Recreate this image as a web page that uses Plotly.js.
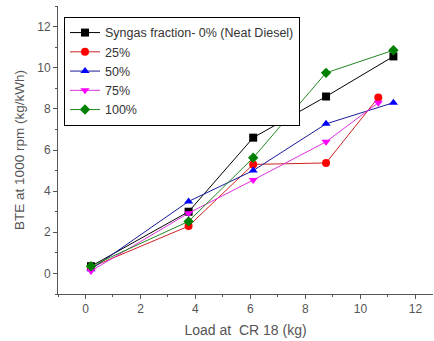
<!DOCTYPE html>
<html><head><meta charset="utf-8">
<script src="https://cdn.plot.ly/plotly-3.0.1.min.js"></script>
<style>html,body{margin:0;padding:0;background:#fff}#c{width:434px;height:341px}</style>
</head><body><div id="c"></div>
<script>
const seriesNames = ["Syngas fraction- 0% (Neat Diesel)", "25%", "50%", "75%", "100%"];
const xLoad0 = [0.2, 3.75, 6.1, 8.75, 11.2];
const xLoad25 = [0.2, 3.75, 6.1, 8.75, 10.65];
const xLoad50 = [0.2, 3.75, 6.1, 8.75, 11.2];
const xLoad75 = [0.2, 3.75, 6.1, 8.75, 10.65];
const xLoad100 = [0.2, 3.75, 6.1, 8.75, 11.2];
const bte0 = [0.35, 3.0, 6.6, 8.6, 10.55];
const bte25 = [0.3, 2.3, 5.3, 5.37, 8.55];
const bte50 = [0.2, 3.5, 5.0, 7.27, 8.3];
const bte75 = [0.12, 2.93, 4.54, 6.4, 8.3];
const bte100 = [0.35, 2.53, 5.62, 9.75, 10.85];
const colors = ["#000000", "#ff0000", "#0000ff", "#ff00ff", "#008000"];
const lineColors = ["#000000", "#cc2222", "#1a1a99", "#dd33dd", "#228822"];
const symbols = ["square", "circle", "triangle-up", "triangle-down", "diamond"];
const xs = [xLoad0, xLoad25, xLoad50, xLoad75, xLoad100];
const ys = [bte0, bte25, bte50, bte75, bte100];

const traces = seriesNames.map((n, i) => ({
  x: xs[i], y: ys[i], name: n, type: "scatter", mode: "lines+markers",
  line: {color: lineColors[i], width: 1},
  marker: {color: colors[i], symbol: symbols[i], size: 8}
}));

const axisCommon = {
  showgrid: false, zeroline: false, showline: true, linecolor: "#555", linewidth: 1,
  ticks: "outside", ticklen: 4, tickcolor: "#555", tickwidth: 1,
  tickfont: {family: "Arial, Liberation Sans, sans-serif", size: 12, color: "#555"},
  minor: {ticks: "outside", ticklen: 2, tickcolor: "#555", dtick: 1}
};

const layout = {
  width: 434, height: 341,
  margin: {l: 58, r: 1, t: 6, b: 47},
  paper_bgcolor: "#fff", plot_bgcolor: "#fff",
  showlegend: true,
  font: {family: "Arial, Liberation Sans, sans-serif", color: "#555"},
  xaxis: Object.assign({}, axisCommon, {
    range: [-1, 12.64], dtick: 2, tick0: 0,
    title: {text: "Load at  CR 18 (kg)", font: {size: 14, color: "#555"}, standoff: 9}
  }),
  yaxis: Object.assign({}, axisCommon, {
    range: [-1, 13], dtick: 2, tick0: 0,
    title: {text: "BTE at 1000 rpm (kg/kWh)", font: {size: 13.5, color: "#555"}, standoff: 9}
  }),
  legend: {
    x: 0.016, y: 0.962, xanchor: "left", yanchor: "top",
    bordercolor: "#000", borderwidth: 1, bgcolor: "#fff",
    font: {family: "Arial, Liberation Sans, sans-serif", size: 12.5, color: "#333"},
    tracegroupgap: 0
  }
};

Plotly.newPlot("c", traces, layout, {displayModeBar: false, staticPlot: true});
</script>
</body></html>
